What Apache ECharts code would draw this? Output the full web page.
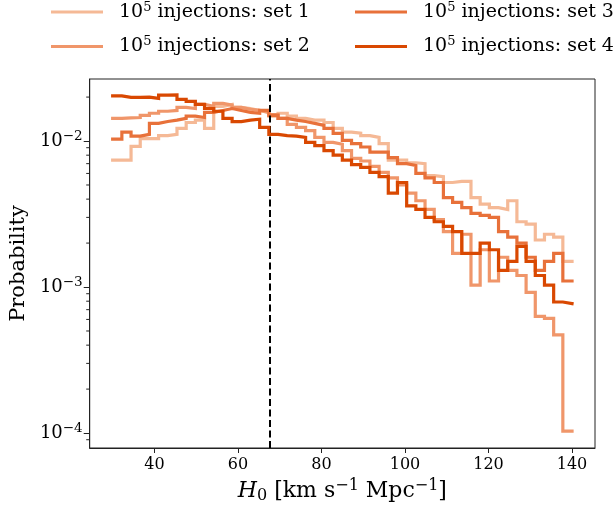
<!DOCTYPE html>
<html>
<head>
<meta charset="utf-8">
<script src="https://cdn.jsdelivr.net/npm/echarts@6/dist/echarts.min.js"></script>
<style>
html, body { margin: 0; padding: 0; background: #fff; }
#chart { width: 614px; height: 514px; }
</style>
</head>
<body>
<div id="chart"></div>
<script>
// H0 histograms, 50 bins between 30 and 140 km/s/Mpc
const H0_MIN = 30;
const H0_MAX = 140;
const N_BINS = 50;
const H0_TRUE = 67.7;

const names = ['set 1', 'set 2', 'set 3', 'set 4'];
const colors = ['#f5b996', '#f0966a', '#e8713a', '#d94801'];

const set1 = [0.0074, 0.0074, 0.0092, 0.0104, 0.0104, 0.0109, 0.0111, 0.0122, 0.0134, 0.0139,
  0.0122, 0.0173, 0.0178, 0.0170, 0.0167, 0.0162, 0.0157, 0.0148, 0.0155, 0.0148,
  0.0143, 0.0139, 0.0139, 0.0134, 0.0122, 0.0115, 0.0113, 0.0109, 0.0106, 0.0096,
  0.0074, 0.0074, 0.0071, 0.0070, 0.0058, 0.0057, 0.0052, 0.0053, 0.0053, 0.0041,
  0.0037, 0.0035, 0.0034, 0.0039, 0.0028, 0.0027, 0.0021, 0.0023, 0.0022, 0.0015];
const set2 = [0.0143, 0.0144, 0.0145, 0.0150, 0.0155, 0.0160, 0.0162, 0.0170, 0.0167, 0.0178,
  0.0173, 0.0181, 0.0176, 0.0170, 0.0165, 0.0162, 0.0157, 0.0152, 0.0143, 0.0130,
  0.0124, 0.0118, 0.0106, 0.0098, 0.0095, 0.0086, 0.0076, 0.0073, 0.0067, 0.0061,
  0.0056, 0.0050, 0.0044, 0.0039, 0.0034, 0.0029, 0.0024, 0.0017, 0.0023, 0.00103,
  0.0018, 0.0011, 0.0016, 0.0013, 0.0012, 0.00092, 0.00063, 0.00061, 0.00047, 0.000103];
const set3 = [0.0103, 0.0115, 0.0108, 0.0111, 0.0132, 0.0136, 0.0139, 0.0143, 0.0148, 0.0145,
  0.0157, 0.0162, 0.0167, 0.0162, 0.0157, 0.0155, 0.0162, 0.0150, 0.0143, 0.0139,
  0.0136, 0.0132, 0.0128, 0.0122, 0.0113, 0.0101, 0.0096, 0.0091, 0.0084, 0.0084,
  0.0077, 0.0070, 0.0068, 0.0060, 0.0056, 0.0052, 0.0041, 0.0038, 0.0035, 0.0032,
  0.0031, 0.0030, 0.0024, 0.0022, 0.0020, 0.0016, 0.0013, 0.0015, 0.0017, 0.0011];
const set4 = [0.0204, 0.0199, 0.0199, 0.0200, 0.0196, 0.0206, 0.0207, 0.0193, 0.0187, 0.0178,
  0.0167, 0.0160, 0.0143, 0.0136, 0.0139, 0.0141, 0.0124, 0.0111, 0.0109, 0.0108,
  0.0106, 0.0098, 0.0093, 0.0086, 0.0080, 0.0074, 0.0069, 0.0066, 0.0061, 0.0057,
  0.0044, 0.0052, 0.0036, 0.0034, 0.0030, 0.0028, 0.0026, 0.0024, 0.0017, 0.0017,
  0.0020, 0.0018, 0.0013, 0.0015, 0.0019, 0.0015, 0.0012, 0.00103, 0.00079, 0.00077];

const yMinorTicks = [9e-5, 2e-4, 3e-4, 4e-4, 5e-4, 6e-4, 7e-4, 8e-4, 9e-4,
  2e-3, 3e-3, 4e-3, 5e-3, 6e-3, 7e-3, 8e-3, 9e-3, 2e-2];

const X_MIN = 24.5, X_MAX = 145.5;
const Y_MIN = 7.9e-5, Y_MAX = 0.0266;

const binWidth = (H0_MAX - H0_MIN) / N_BINS;
function stepData(values) {
  const pts = values.map((v, i) => [H0_MIN + i * binWidth, v]);
  pts.push([H0_MAX, values[values.length - 1]]);
  return pts;
}

const font = 'DejaVu Serif';
const legendRich = {
  a: { fontFamily: font, fontSize: 19, color: '#000' },
  s: { fontFamily: font, fontSize: 13, color: '#000', padding: [0, 0, 9, 0] }
};
function legendFmt(n) {
  return '{a|10}{s|5}{a| injections: ' + n + '}';
}

const allSets = [set1, set2, set3, set4];
const series = allSets.map((vals, i) => ({
  name: names[i],
  type: 'line',
  step: 'end',
  data: stepData(vals),
  showSymbol: false,
  symbol: 'none',
  lineStyle: { color: colors[i], width: 3.2, cap: 'square', join: 'miter' },
  itemStyle: { color: colors[i] },
  z: 2 + i
}));

series.push({
  type: 'line',
  data: [],
  z: 10,
  markLine: {
    silent: true,
    symbol: 'none',
    label: { show: false },
    lineStyle: { color: '#000', type: [7, 3.5], width: 2 },
    data: [{ xAxis: H0_TRUE }]
  }
});

// minor ticks of the log axis (2..9 x 10^k)
series.push({
  type: 'custom',
  silent: true,
  clip: false,
  z: 1,
  data: yMinorTicks.map(v => [X_MIN, v]),
  renderItem: function (params, api) {
    const p = api.coord([api.value(0), api.value(1)]);
    return {
      type: 'line',
      shape: { x1: p[0] - 3.5, y1: p[1], x2: p[0], y2: p[1] },
      style: { stroke: '#222', lineWidth: 1 }
    };
  }
});

const chart = echarts.init(document.getElementById('chart'), null, { renderer: 'canvas' });
chart.setOption({
  animation: false,
  backgroundColor: '#fff',
  grid: { left: 89, right: 19, top: 79, bottom: 66, show: true, borderColor: '#222', borderWidth: 1, backgroundColor: 'transparent' },
  legend: [
    {
      data: ['set 1', 'set 2'], orient: 'vertical', left: 46, top: -4,
      icon: 'rect', itemWidth: 52, itemHeight: 3, itemGap: 14,
      formatter: legendFmt,
      textStyle: { rich: legendRich, padding: [0, 0, 0, 11] }
    },
    {
      data: ['set 3', 'set 4'], orient: 'vertical', left: 350, top: -4,
      icon: 'rect', itemWidth: 52, itemHeight: 3, itemGap: 14,
      formatter: legendFmt,
      textStyle: { rich: legendRich, padding: [0, 0, 0, 11] }
    }
  ],
  xAxis: {
    type: 'value',
    min: X_MIN,
    max: X_MAX,
    splitNumber: 5,
    splitLine: { show: false },
    axisLine: { lineStyle: { color: '#222', width: 1 } },
    axisTick: { length: 5, lineStyle: { color: '#222' } },
    axisLabel: {
      color: '#000', fontFamily: font, fontSize: 16, margin: 9,
      showMinLabel: false, showMaxLabel: false
    },
    name: '{i|H}{sub|0}{t| [km s}{sup|−1}{t| Mpc}{sup|−1}{t|]}',
    nameLocation: 'middle',
    nameGap: 30,
    nameTextStyle: {
      rich: {
        i: { fontFamily: font, fontSize: 22, fontStyle: 'italic', color: '#000' },
        sub: { fontFamily: font, fontSize: 16, color: '#000', padding: [9, 0, 0, 0] },
        t: { fontFamily: font, fontSize: 22, color: '#000' },
        sup: { fontFamily: font, fontSize: 16, color: '#000', padding: [0, 0, 10, 0] }
      }
    }
  },
  yAxis: {
    type: 'log',
    logBase: 10,
    min: Y_MIN,
    max: Y_MAX,
    splitLine: { show: false },
    axisLine: { show: true, lineStyle: { color: '#222', width: 1 } },
    axisTick: { show: true, length: 6, lineStyle: { color: '#222' } },
    axisLabel: {
      margin: 7,
      showMinLabel: false, showMaxLabel: false,
      formatter: function (v) {
        const e = Math.round(Math.log10(v));
        return '{b|10}{s|' + String(e).replace('-', '−') + '}';
      },
      rich: {
        b: { fontFamily: font, fontSize: 18, color: '#000' },
        s: { fontFamily: font, fontSize: 13.5, color: '#000', padding: [0, 0, 10, 0] }
      }
    },
    name: 'Probability',
    nameLocation: 'middle',
    nameGap: 58,
    nameTextStyle: { fontFamily: font, fontSize: 21, color: '#000' }
  },
  series: series
});
</script>
</body>
</html>
